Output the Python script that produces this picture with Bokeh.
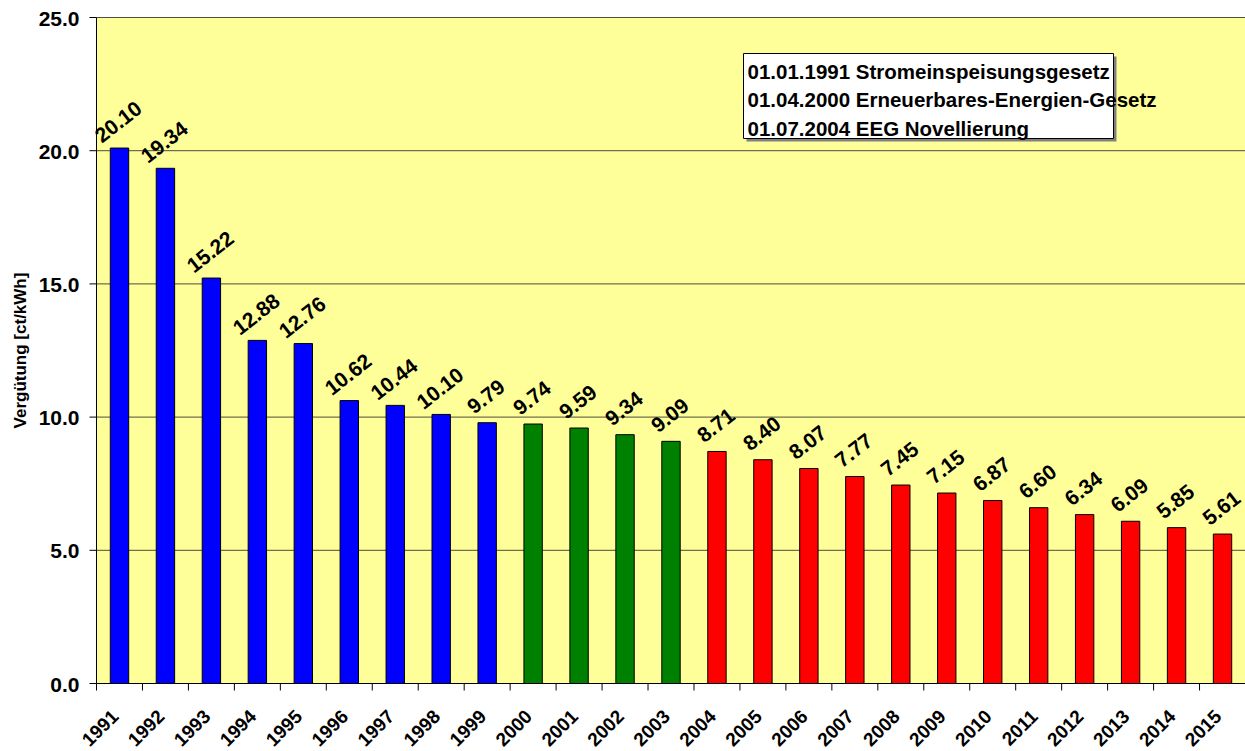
import math
from bokeh.plotting import figure
from bokeh.models import Range1d, ColumnDataSource
from bokeh.core.properties import value
from bokeh.embed import file_html
from bokeh.resources import INLINE

# ---------------- data ----------------
years = ["1991", "1992", "1993", "1994", "1995", "1996", "1997", "1998", "1999",
         "2000", "2001", "2002", "2003", "2004", "2005", "2006", "2007", "2008",
         "2009", "2010", "2011", "2012", "2013", "2014", "2015"]
verguetung = [20.10, 19.34, 15.22, 12.88, 12.76, 10.62, 10.44, 10.10, 9.79,
              9.74, 9.59, 9.34, 9.09, 8.71, 8.40, 8.07, 7.77, 7.45,
              7.15, 6.87, 6.60, 6.34, 6.09, 5.85, 5.61]
# law in force for each year: 0 = StrEG, 1 = EEG 2000, 2 = EEG Novelle 2004
period = [0, 0, 0, 0, 0, 0, 0, 0, 0,
          1, 1, 1, 1,
          2, 2, 2, 2, 2, 2, 2, 2, 2, 2, 2, 2]
period_colors = ["#0000FF", "#008000", "#FF0000"]
legend_lines = ["01.01.1991 Stromeinspeisungsgesetz",
                "01.04.2000 Erneuerbares-Energien-Gesetz",
                "01.07.2004 EEG Novellierung"]
y_ticks = [0, 5, 10, 15, 20, 25]
y_tick_labels = ["0.0", "5.0", "10.0", "15.0", "20.0", "25.0"]
y_title = "Vergütung [ct/kWh]"

# ---------------- layout constants (page pixels) ----------------
PLOT_LEFT = 96        # pixel column of the value axis
PLOT_TOP = 17         # pixel row of the value 25
AXIS_Y = 683          # pixel row of the value 0
FIG_W = 1245
FIG_H = 751
N = len(years)
Y_MAX = 25.0
PX_PER_Y = (AXIS_Y - PLOT_TOP) / Y_MAX
PX_PER_CAT = (FIG_W - PLOT_LEFT) / N
Y_LO = -(FIG_H - AXIS_Y) / PX_PER_Y
Y_HI = Y_MAX + PLOT_TOP / PX_PER_Y
X_LO = -PLOT_LEFT / PX_PER_CAT
TICK_LEN = 7
GRID_COLOR = "#4d4d40"
VALUE_ANGLE = math.radians(38)
YEAR_ANGLE = math.radians(45)

FONT = value("Liberation Sans")


def px2x(px):
    return (px - PLOT_LEFT) / PX_PER_CAT


def py2y(py):
    return (AXIS_Y - py) / PX_PER_Y


centers = [i + 0.5 for i in range(N)]
boundaries = list(range(N + 1))
colors = [period_colors[k] for k in period]
labels = ["%.2f" % v for v in verguetung]

p = figure(width=FIG_W, height=FIG_H,
           x_range=Range1d(X_LO, N), y_range=Range1d(Y_LO, Y_HI),
           output_backend="svg", toolbar_location=None,
           x_axis_location=None, y_axis_location=None,
           min_border_left=0, min_border_right=0,
           min_border_top=0, min_border_bottom=0)
p.background_fill_color = "white"
p.border_fill_color = "white"
p.outline_line_color = None
p.grid.visible = False

# plot area background (value range 0..25)
p.quad(left=[0], right=[N], bottom=[0], top=[Y_MAX],
       fill_color="#FFFF99", line_color=None)

# horizontal grid lines
grid_vals = [t for t in y_ticks if t > 0]
p.segment(x0=[0] * len(grid_vals), x1=[N] * len(grid_vals), y0=grid_vals, y1=grid_vals,
          line_color=GRID_COLOR, line_width=1)

# bars
src = ColumnDataSource(dict(x=centers, top=verguetung, color=colors, label=labels,
                            year=years, zero=[0.0] * N))
p.vbar(x="x", top="top", width=0.4, source=src, fill_color="color",
       line_color="black", line_width=1)

# value labels
p.text(x="x", y="top", text="label", source=src, angle=VALUE_ANGLE,
       text_align="center", text_baseline="alphabetic", x_offset=-1, y_offset=-26,
       text_font=FONT, text_font_style="bold", text_font_size="21px",
       text_color="black")

# category axis: line, boundary ticks, rotated year labels
p.segment(x0=[0], x1=[N], y0=[0], y1=[0], line_color="black", line_width=1)
p.segment(x0=boundaries, x1=boundaries, y0=[0] * (N + 1),
          y1=[-TICK_LEN / PX_PER_Y] * (N + 1), line_color="black", line_width=1)
p.text(x="x", y="zero", text="year", source=src, angle=YEAR_ANGLE,
       text_align="right", text_baseline="top", x_offset=-9, y_offset=25,
       text_font=FONT, text_font_style="bold", text_font_size="19px",
       text_color="black")

# value axis: line, ticks, labels, title
p.segment(x0=[0], x1=[0], y0=[0], y1=[Y_MAX], line_color="black", line_width=1)
p.segment(x0=[0] * len(y_ticks), x1=[-TICK_LEN / PX_PER_CAT] * len(y_ticks),
          y0=y_ticks, y1=y_ticks, line_color="black", line_width=1)
p.text(x=[0] * len(y_ticks), y=y_ticks, text=y_tick_labels,
       text_align="right", text_baseline="middle", x_offset=-17, y_offset=1,
       text_font=FONT, text_font_style="bold", text_font_size="21px",
       text_color="black")
p.text(x=[px2x(20)], y=[Y_MAX / 2], text=[y_title], angle=math.pi / 2,
       text_align="center", text_baseline="middle",
       text_font=FONT, text_font_style="bold", text_font_size="17px",
       text_color="black")

# legend-like text box
BOX_L, BOX_R, BOX_T, BOX_B = 743, 1113, 53, 138
SH = 3
p.quad(left=[px2x(BOX_L + SH)], right=[px2x(BOX_R + SH)],
       top=[py2y(BOX_T + SH)], bottom=[py2y(BOX_B + SH)],
       fill_color="#808080", line_color=None)
p.quad(left=[px2x(BOX_L)], right=[px2x(BOX_R)],
       top=[py2y(BOX_T)], bottom=[py2y(BOX_B)],
       fill_color="white", line_color="black", line_width=1)
baselines = [70.5, 99, 127.5]
p.text(x=[px2x(747)] * 3, y=[py2y(b) for b in baselines], text=legend_lines,
       text_align="left", text_baseline="alphabetic",
       text_font=FONT, text_font_style="bold", text_font_size="20.5px",
       text_color="black")

open("out.html", "w").write(file_html(p, INLINE))
